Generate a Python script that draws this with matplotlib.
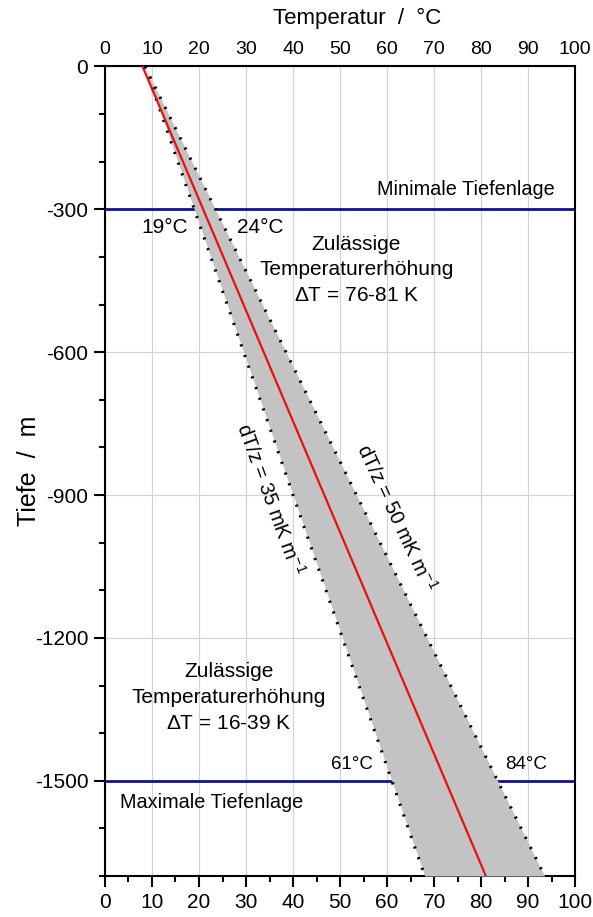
import matplotlib
matplotlib.use("Agg")
import matplotlib.pyplot as plt
from matplotlib.ticker import MultipleLocator

plt.rcParams['font.family'] = ['Liberation Sans', 'DejaVu Sans']
plt.rcParams['mathtext.fontset'] = 'custom'
plt.rcParams['mathtext.rm'] = 'Liberation Sans'
plt.rcParams['mathtext.it'] = 'Liberation Sans:italic'
plt.rcParams['axes.unicode_minus'] = False

# data
depth = [0, -1700]
temp_mean = [8, 81]          # red line
temp_35 = [8.5, 68]          # dT/z = 35 mK/m
temp_50 = [8.5, 93.5]        # dT/z = 50 mK/m
depth_min = -300
depth_max = -1500
labels_min = ["19°C", "24°C"]
labels_max = ["61°C", "84°C"]

fig = plt.figure(figsize=(5.93, 9.17), dpi=100)
ax = fig.add_axes([0.177, 0.0447, 0.793, 0.8828])

ax.set_xlim(0, 100)
ax.set_ylim(-1700, 0)

ax.grid(True, color='#d4d4d4', lw=0.9, zorder=0)
ax.set_axisbelow(True)

ax.axhline(depth_min, color='#10109a', lw=2, zorder=2)
ax.axhline(depth_max, color='#10109a', lw=2, zorder=2)

ax.fill_betweenx(depth, temp_35, temp_50, color='#c3c3c3', lw=0, zorder=3)
ax.plot(temp_35, depth, color='black', lw=2.2, ls=(0, (0.7, 3.0)), zorder=4)
ax.plot(temp_50, depth, color='black', lw=2.2, ls=(0, (0.7, 3.0)), zorder=4)
ax.plot(temp_mean, depth, color='#e81010', lw=1.6, zorder=5)

fs = 15
ax.text(95.7, -259, "Minimale Tiefenlage", ha='right', va='center', fontsize=14.3)
ax.text(3.2, -1545, "Maximale Tiefenlage", ha='left', va='center', fontsize=14.3)
ax.text(12.7, -339, labels_min[0], ha='center', va='center', fontsize=15)
ax.text(33.0, -339, labels_min[1], ha='center', va='center', fontsize=15)
ax.text(52.5, -1465, labels_max[0], ha='center', va='center', fontsize=13.5)
ax.text(89.6, -1465, labels_max[1], ha='center', va='center', fontsize=13.5)
ax.text(53.5, -427, "Zulässige\nTemperaturerhöhung\n$\\Delta$T = 76-81 K",
        ha='center', va='center', fontsize=fs, linespacing=1.45)
ax.text(26.4, -1325, "Zulässige\nTemperaturerhöhung\n$\\Delta$T = 16-39 K",
        ha='center', va='center', fontsize=fs, linespacing=1.45)
ax.text(35.1, -909, "dT/z = 35 mK m$^{-1}$", rotation=-70, ha='center',
        va='center', fontsize=14.5, rotation_mode='anchor')
ax.text(61.9, -947, "dT/z = 50 mK m$^{-1}$", rotation=-65, ha='center',
        va='center', fontsize=14.5, rotation_mode='anchor')

ax.xaxis.set_major_locator(MultipleLocator(10))
ax.xaxis.set_minor_locator(MultipleLocator(5))
ax.yaxis.set_major_locator(MultipleLocator(300))
ax.yaxis.set_minor_locator(MultipleLocator(100))
ax.tick_params(which='major', direction='out', length=8, width=1.5,
               labelsize=fs, pad=4)
ax.tick_params(which='minor', direction='out', length=4.5, width=1.5)
ax.tick_params(axis='x', which='both', top=False)
ax.tick_params(axis='y', which='both', right=False)
for s in ax.spines.values():
    s.set_linewidth(1.5)

top = ax.secondary_xaxis('top')
top.xaxis.set_major_locator(MultipleLocator(10))
top.tick_params(length=0, labelsize=14, pad=6)
top.spines['top'].set_visible(False)
ax.text(0.536, 1.0525, "Temperatur  /  °C", transform=ax.transAxes,
        ha='center', va='baseline', fontsize=16)

ax.set_ylabel("Tiefe  /  m", fontsize=18)
ax.yaxis.set_label_coords(-0.135, 0.5)

fig.savefig("out.png", dpi=100)
